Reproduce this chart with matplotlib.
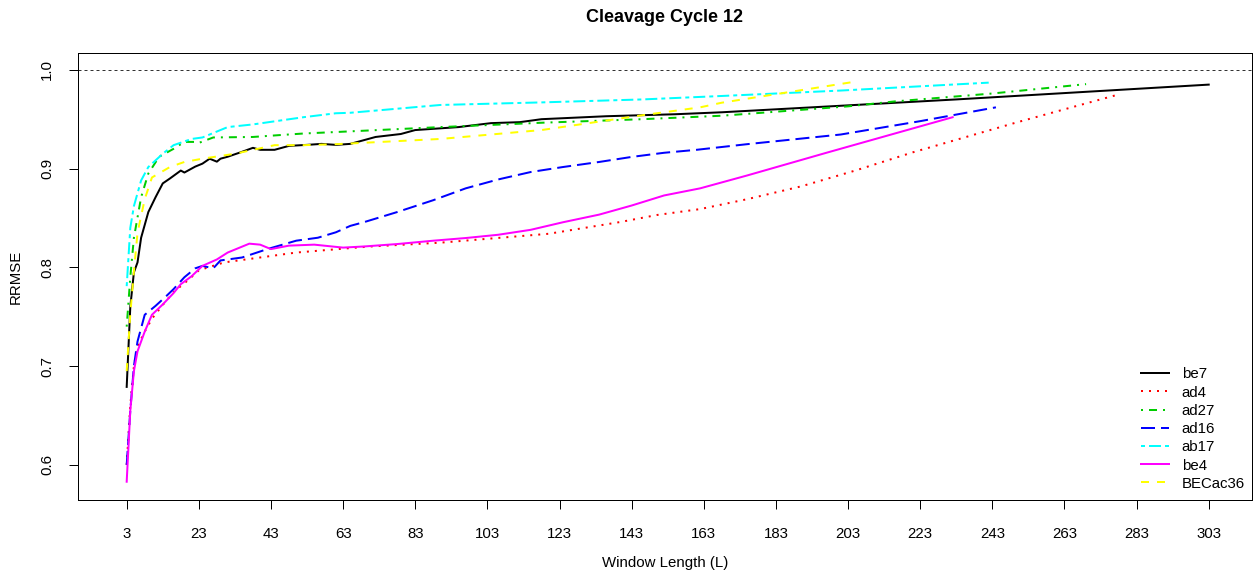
import matplotlib
matplotlib.use("Agg")
import matplotlib.pyplot as plt

plt.rcParams['font.family'] = ['Liberation Sans', 'DejaVu Sans']

# ---- data -------------------------------------------------------------
series_names = ["be7", "ad4", "ad27", "ad16", "ab17", "be4", "BECac36"]

be7_x = [3, 4, 5, 6, 7, 9, 11, 13, 15, 18, 19, 22, 24, 26, 28, 29, 31, 35, 38, 40,
         44, 48, 53, 57, 61, 65, 72, 79, 83, 95, 104, 112, 118, 136, 155, 168, 203, 233, 303]
be7_y = [0.679, 0.760, 0.795, 0.805, 0.830, 0.856, 0.871, 0.885, 0.890, 0.898, 0.896, 0.902,
         0.905, 0.910, 0.907, 0.910, 0.912, 0.917, 0.921, 0.919, 0.919, 0.923, 0.924, 0.925,
         0.924, 0.925, 0.932, 0.935, 0.939, 0.942, 0.946, 0.947, 0.950, 0.953, 0.955, 0.957,
         0.964, 0.970, 0.985]

ad4_x = [3, 4, 5, 6, 8, 10, 13, 16, 20, 23, 30, 40, 50, 60, 70, 80, 90, 100, 110, 120,
         130, 140, 150, 162, 175, 190, 205, 221, 250, 278]
ad4_y = [0.600, 0.660, 0.700, 0.720, 0.735, 0.748, 0.762, 0.775, 0.787, 0.797, 0.805, 0.810,
         0.815, 0.818, 0.821, 0.823, 0.825, 0.828, 0.831, 0.834, 0.840, 0.846, 0.853, 0.859,
         0.869, 0.882, 0.898, 0.9165, 0.947, 0.975]

ad27_x = [3, 4, 5, 7, 9, 12, 16, 19, 22, 23, 27, 38, 45, 52, 61, 90, 118, 146, 168, 203,
          216, 243, 269]
ad27_y = [0.740, 0.790, 0.830, 0.871, 0.895, 0.912, 0.920, 0.927, 0.927, 0.926, 0.9315,
          0.932, 0.9338, 0.9355, 0.937, 0.942, 0.9464, 0.950, 0.9535, 0.963, 0.968, 0.976,
          0.9855]

ad16_x = [3, 4, 5, 6, 8, 11, 14, 16, 19, 22, 24, 27, 29, 35, 42, 50, 56, 61, 65, 69, 78,
          88, 97, 106, 115, 124, 134, 143, 152, 161, 175, 201, 223, 244]
ad16_y = [0.600, 0.655, 0.700, 0.725, 0.752, 0.761, 0.771, 0.778, 0.790, 0.799, 0.8015,
          0.799, 0.807, 0.810, 0.8185, 0.827, 0.830, 0.8355, 0.842, 0.846, 0.856, 0.868,
          0.880, 0.889, 0.8965, 0.9016, 0.9067, 0.9118, 0.916, 0.919, 0.9247, 0.9345,
          0.948, 0.962]

ab17_x = [3, 4, 5, 7, 9, 13, 16, 21, 24, 31, 38, 52, 61, 65, 90, 118, 146, 168, 201, 242]
ab17_y = [0.781, 0.840, 0.862, 0.888, 0.9016, 0.915, 0.9237, 0.930, 0.9315, 0.942,
          0.9447, 0.952, 0.956, 0.9565, 0.9644, 0.967, 0.970, 0.9735, 0.979, 0.987]

be4_x = [3, 4, 5, 6, 8, 10, 13, 16, 18, 21, 24, 28, 31, 37, 40, 43, 48, 55, 63, 69, 78,
         88, 97, 106, 115, 124, 134, 143, 152, 162, 175, 197, 232]
be4_y = [0.583, 0.655, 0.695, 0.715, 0.735, 0.752, 0.7625, 0.774, 0.783, 0.791, 0.8015,
         0.808, 0.815, 0.824, 0.823, 0.8185, 0.822, 0.823, 0.820, 0.8212, 0.8236, 0.827,
         0.8297, 0.833, 0.838, 0.8457, 0.8534, 0.8626, 0.8728, 0.880, 0.893, 0.916, 0.952]

becac36_x = [3, 4, 5, 6, 8, 10, 15, 19, 24, 33, 44, 52, 61, 90, 118, 146, 162, 168, 205]
becac36_y = [0.695, 0.753, 0.796, 0.835, 0.869, 0.891, 0.9016, 0.9067, 0.910, 0.915,
             0.9237, 0.9237, 0.9247, 0.930, 0.939, 0.954, 0.962, 0.9667, 0.988]

x_ticks = [3, 23, 43, 63, 83, 103, 123, 143, 163, 183, 203, 223, 243, 263, 283, 303]
y_ticks = [0.6, 0.7, 0.8, 0.9, 1.0]
y_tick_labels = ["0.6", "0.7", "0.8", "0.9", "1.0"]
reference_level = 1.0

title_text = "Cleavage Cycle 12"
x_label = "Window Length (L)"
y_label = "RRMSE"

# ---- styling ------------------------------------------------------------
W, H = 1260, 577
fig = plt.figure(figsize=(W / 100, H / 100), dpi=100)
ax = fig.add_axes([78 / W, 1 - 500 / H, (1252 - 78) / W, (500 - 53.3) / H])

px = 72 / 100  # one pixel in points
lw = 2 * px
fs = 15 * px

styles = [
    ("black", "solid"),
    ("#FF0000", (0, (1, 3))),
    ("#00CD00", (0, (1, 3, 4, 3))),
    ("#0000FF", (0, (7, 3))),
    ("#00FFFF", (0, (2, 2, 6, 2))),
    ("#FF00FF", "solid"),
    ("#FFFF00", (0, (4, 4))),
]
data = [(be7_x, be7_y), (ad4_x, ad4_y), (ad27_x, ad27_y), (ad16_x, ad16_y),
        (ab17_x, ab17_y), (be4_x, be4_y), (becac36_x, becac36_y)]

ax.axhline(reference_level, color="#333333", lw=1 * px, linestyle=(0, (3, 3)), zorder=1)

for name, (xs, ys), (c, ls) in zip(series_names, data, styles):
    ax.plot(xs, ys, color=c, lw=lw, linestyle=ls, label=name,
            dash_capstyle="butt", solid_joinstyle="round", zorder=2)

ax.set_xlim(-10.5, 315)
ax.set_ylim(0.5645, 1.0167)
ax.set_xticks(x_ticks)
ax.set_xticklabels([str(t) for t in x_ticks])
ax.set_yticks(y_ticks)
ax.set_yticklabels(y_tick_labels, rotation=90, va="center")
ax.tick_params(axis="both", length=9 * px, width=1 * px, labelsize=fs, color="black")
ax.tick_params(axis="x", pad=17.5 * px)
ax.tick_params(axis="y", pad=15 * px)
for sp in ax.spines.values():
    sp.set_linewidth(1 * px)
    sp.set_color("black")

fig.text(665 / W, 1 - 17 / H, title_text, ha="center", va="center",
         fontsize=18 * px, fontweight="bold")
fig.text(665 / W, 1 - 563 / H, x_label, ha="center", va="center", fontsize=fs)
fig.text(16 / W, 1 - 276.5 / H, y_label, ha="center", va="center", fontsize=fs,
         rotation=90)

leg = ax.legend(loc="upper left", bbox_to_anchor=(1140.7 / W, 1 - 367.5 / H),
                bbox_transform=fig.transFigure, frameon=False, fontsize=fs,
                handlelength=1.9, handletextpad=0.83, borderpad=0, borderaxespad=0,
                labelspacing=0.28)

fig.savefig("out.png", dpi=100)
